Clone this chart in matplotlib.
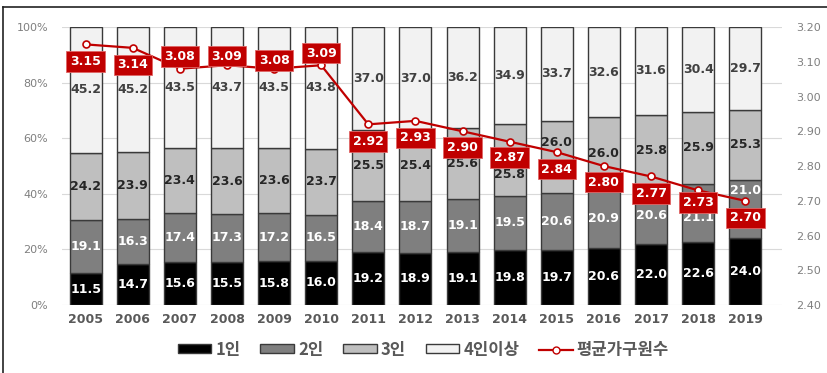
import numpy as np
import matplotlib.pyplot as plt
from matplotlib.lines import Line2D

plt.rcParams['font.family'] = ['DejaVu Sans', 'Noto Sans CJK KR']

# data
years = ["2005", "2006", "2007", "2008", "2009", "2010", "2011", "2012",
         "2013", "2014", "2015", "2016", "2017", "2018", "2019"]
one = [11.5, 14.7, 15.6, 15.5, 15.8, 16.0, 19.2, 18.9, 19.1, 19.8, 19.7, 20.6, 22.0, 22.6, 24.0]
two = [19.1, 16.3, 17.4, 17.3, 17.2, 16.5, 18.4, 18.7, 19.1, 19.5, 20.6, 20.9, 20.6, 21.1, 21.0]
three = [24.2, 23.9, 23.4, 23.6, 23.6, 23.7, 25.5, 25.4, 25.6, 25.8, 26.0, 26.0, 25.8, 25.9, 25.3]
four = [45.2, 45.2, 43.5, 43.7, 43.5, 43.8, 37.0, 37.0, 36.2, 34.9, 33.7, 32.6, 31.6, 30.4, 29.7]
avg = [3.15, 3.14, 3.08, 3.09, 3.08, 3.09, 2.92, 2.93, 2.90, 2.87, 2.84, 2.80, 2.77, 2.73, 2.70]
series_names = ["1인", "2인", "3인", "4인이상"]
line_name = "평균가구원수"

# styling
colors = ["#000000", "#7f7f7f", "#bfbfbf", "#f2f2f2"]
text_colors = ["white", "white", "#262626", "#404040"]
# red box offset below the marker, px (negative = above)
box_off = [17, 17, -12, -9, -8, -12, 17, 17, 16, 16, 17, 16, 17, 12, 17]
# nudges (px) for a few segment labels hidden by the red boxes
nudge = {(2, 9): -15, (2, 10): 14, (1, 13): -5, (1, 14): 19}

fig = plt.figure(figsize=(8.27, 3.73), dpi=100)
ax = fig.add_axes([0.075, 0.182, 0.8706, 0.7456])
x = np.arange(len(years))
vals = [one, two, three, four]
bottom = np.zeros(len(years))
handles = []
for i, v in enumerate(vals):
    v = np.array(v)
    b = ax.bar(x, v, 0.68, bottom=bottom, color=colors[i], edgecolor="#3a3a3a",
               linewidth=1.0, zorder=2, label=series_names[i])
    handles.append(b)
    for j in range(len(years)):
        yc = bottom[j] + v[j] / 2
        dy = nudge.get((i, j), 0)
        ax.annotate(f"{v[j]:.1f}", (x[j], yc), xytext=(0, dy * 0.72),
                    textcoords="offset points", ha="center", va="center",
                    fontsize=9, fontweight="bold", color=text_colors[i], zorder=3)
    bottom = bottom + v

ax.set_ylim(0, 100)
ax.set_xlim(-0.5, 14.78)
ax.set_yticks(np.arange(0, 101, 20))
ax.set_yticklabels([f"{t}%" for t in range(0, 101, 20)])
ax.set_xticks(x)
ax.set_xticklabels(years, fontweight="bold")
ax.tick_params(axis="y", length=0, labelsize=8, labelcolor="#7f7f7f", pad=10)
ax.tick_params(axis="x", length=0, labelsize=9, labelcolor="#595959", pad=6)
ax.grid(axis="y", color="#d9d9d9", linewidth=0.8, zorder=0)
for s in ax.spines.values():
    s.set_visible(False)

ax2 = ax.twinx()
ax2.set_ylim(2.40, 3.20)
ax2.set_yticks(np.arange(2.40, 3.201, 0.10))
ax2.set_yticklabels([f"{t:.2f}" for t in np.arange(2.40, 3.201, 0.10)])
ax2.tick_params(axis="y", length=0, labelsize=8, labelcolor="#7f7f7f", pad=10)
for s in ax2.spines.values():
    s.set_visible(False)
ln, = ax2.plot(x, avg, color="#c00000", linewidth=1.6, marker="o", markersize=5,
               markerfacecolor="white", markeredgecolor="#c00000", markeredgewidth=1.2,
               zorder=4)
for j, a in enumerate(avg):
    ax2.annotate(f"{a:.2f}", (x[j], a), xytext=(0, -box_off[j] * 0.72),
                 textcoords="offset points", ha="center", va="center",
                 fontsize=9, fontweight="bold", color="white",
                 bbox=dict(boxstyle="square,pad=0.3", fc="#c00000", ec="#e06666", lw=0.6),
                 zorder=5)

leg_line = Line2D([], [], color="#c00000", linewidth=1.6, marker="o", markersize=5,
                  markerfacecolor="white", markeredgecolor="#c00000")
fig.legend(handles + [leg_line], series_names + [line_name], loc="center",
           bbox_to_anchor=(0.512, 0.062), ncol=5, frameon=False,
           prop={"family": ["Noto Sans CJK KR"], "size": 12, "weight": "bold"},
           handlelength=2.0, handleheight=0.45, columnspacing=1.2, handletextpad=0.25,
           labelcolor="#595959")

# outer frame (top and left only visible)
fig.add_artist(Line2D([0.0036, 1.0], [0.981, 0.981], color="#222222", linewidth=1.2))
fig.add_artist(Line2D([0.0036, 0.0036], [0.0, 0.981], color="#222222", linewidth=1.2))

fig.savefig("out.png", dpi=100, facecolor="white")
